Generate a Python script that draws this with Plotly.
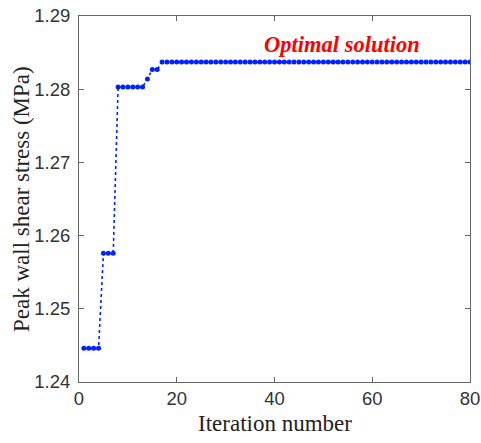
import plotly.graph_objects as go

iterations = list(range(1, 81))
stress = ([1.2446] * 4 + [1.2576] * 3 + [1.2803] * 6 + [1.2814] + [1.2827] * 2
          + [1.2837] * 64)
x_ticks = [0, 20, 40, 60, 80]
y_ticks = [1.24, 1.25, 1.26, 1.27, 1.28, 1.29]

fig = go.Figure()
fig.add_trace(go.Scatter(
    x=iterations, y=stress, mode="lines+markers",
    line=dict(color="#0022ff", width=1.6, dash="dot"),
    marker=dict(color="#0022ff", size=5),
    showlegend=False,
))
fig.add_annotation(x=53.9, y=1.28616, text="<b><i>Optimal solution</i></b>", showarrow=False,
                   font=dict(family="Liberation Serif", size=22.5, color="#ff0000"))

title_font = dict(family="Liberation Serif", size=23, color="#222222")
fig.add_annotation(xref="paper", yref="paper", x=0.5, y=0, yanchor="middle", yshift=-41,
                   text="Iteration number", showarrow=False, font=title_font)
fig.add_annotation(xref="paper", yref="paper", x=0, y=0.5, xanchor="center", xshift=-58,
                   textangle=-90, text="Peak wall shear stress (MPa)", showarrow=False, font=title_font)

axis_common = dict(showline=True, linecolor="#666666", linewidth=1, mirror="ticks",
                   ticks="inside", ticklen=5, tickcolor="#666666", showgrid=False,
                   zeroline=False, automargin=False,
                   tickfont=dict(family="Liberation Sans", size=18.5, color="#333333"))
fig.update_xaxes(range=[0, 80], tickvals=x_ticks, ticktext=[str(v) for v in x_ticks], **axis_common)
fig.update_yaxes(range=[1.24, 1.29], tickvals=y_ticks, ticktext=[f"{v:.2f}" for v in y_ticks],
                 ticklabelstandoff=4, **axis_common)
fig.update_layout(width=481, height=443, margin=dict(l=79, r=11, t=16, b=61),
                  plot_bgcolor="white", paper_bgcolor="white")
fig.write_html("out.html")
